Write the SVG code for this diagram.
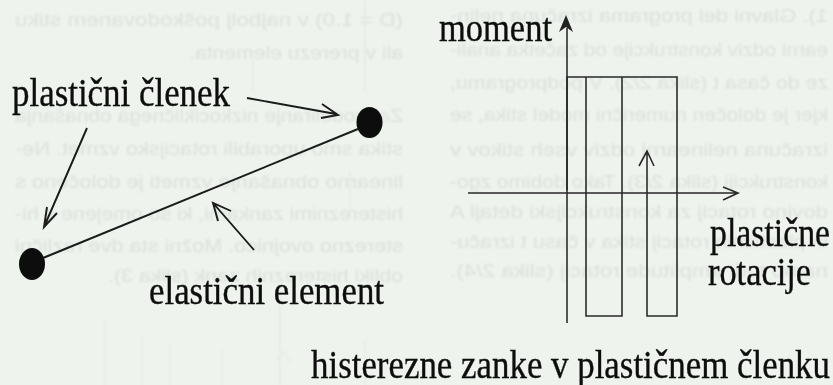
<svg xmlns="http://www.w3.org/2000/svg" width="833" height="385" viewBox="0 0 833 385">
<style>
.bg{font-family:"Liberation Sans",Arial,sans-serif;font-size:19px;fill:#dde1dc}
.t{font-family:"Liberation Serif","Times New Roman",serif;font-size:35px;fill:#111;stroke:#111;stroke-width:.35}
.l{fill:none;stroke:#1a1a1a;stroke-width:1.9}
.a{fill:none;stroke:#2a2a2a;stroke-width:1.6}
.n{fill:#0a0a0a}
.h{fill:#222}
.f{fill:none;stroke:#e8ece7;stroke-width:2}
</style>
<defs>
<filter id="soft" x="-5%" y="-5%" width="110%" height="110%"><feGaussianBlur stdDeviation="0.45"/></filter>
<filter id="softer" x="-5%" y="-5%" width="110%" height="110%"><feGaussianBlur stdDeviation="0.8"/></filter>
</defs>
<rect width="833" height="385" fill="#eef3ee"/>
<g id="faint-marks" filter="url(#softer)">
<path class="f" d="M365 0V92M253 60V92M350 170V215M280 285V385M105 320V385M142 335V385M170 345V385M222 350V385M276 360L283 352L290 362M365 340V385"/>
</g>
<g id="faint-mirrored-page-text" filter="url(#softer)">
<g transform="translate(418,0) scale(-1,1)">
<text class="bg" x="15" y="26" textLength="388" lengthAdjust="spacingAndGlyphs">(D = 1.0) v najbolj poškodovanem stiku</text>
<text class="bg" x="15" y="59" textLength="214" lengthAdjust="spacingAndGlyphs">ali v prerezu elementa.</text>
<text class="bg" x="15" y="122" textLength="388" lengthAdjust="spacingAndGlyphs">Za modeliranje nizkocikličnega obnašanja</text>
<text class="bg" x="15" y="155" textLength="388" lengthAdjust="spacingAndGlyphs">stika smo uporabili rotacijsko vzmet. Ne-</text>
<text class="bg" x="15" y="188" textLength="388" lengthAdjust="spacingAndGlyphs">linearno obnašanje vzmeti je določeno s</text>
<text class="bg" x="15" y="220" textLength="388" lengthAdjust="spacingAndGlyphs">histereznimi zankami, ki so omejene s hi-</text>
<text class="bg" x="15" y="252" textLength="388" lengthAdjust="spacingAndGlyphs">sterezno ovojnico. Možni sta dve različni</text>
<text class="bg" x="15" y="282" textLength="295" lengthAdjust="spacingAndGlyphs">obliki histereznih zank (slika 3).</text>
</g>
<g transform="translate(1278,0) scale(-1,1)">
<text class="bg" x="450" y="22" textLength="378" lengthAdjust="spacingAndGlyphs">1). Glavni del programa izračuna nelin-</text>
<text class="bg" x="450" y="56" textLength="378" lengthAdjust="spacingAndGlyphs">earni odziv konstrukcije od začetka anali-</text>
<text class="bg" x="450" y="89" textLength="378" lengthAdjust="spacingAndGlyphs">ze do časa t (slika 2/2). V podprogramu,</text>
<text class="bg" x="450" y="121" textLength="378" lengthAdjust="spacingAndGlyphs">kjer je določen numerični model stika, se</text>
<text class="bg" x="450" y="156" textLength="378" lengthAdjust="spacingAndGlyphs">izračuna nelinearni odziv vseh stikov v</text>
<text class="bg" x="450" y="188" textLength="378" lengthAdjust="spacingAndGlyphs">konstrukciji (slika 2/3). Tako dobimo zgo-</text>
<text class="bg" x="450" y="218" textLength="378" lengthAdjust="spacingAndGlyphs">dovino rotacij za konstrukcijski detajl A</text>
<text class="bg" x="450" y="248" textLength="378" lengthAdjust="spacingAndGlyphs">in plastičnih rotacij stika v času t izraču-</text>
<text class="bg" x="450" y="277" textLength="378" lengthAdjust="spacingAndGlyphs">namo tudi amplitude rotacij (slika 2/4).</text>
</g>
</g>
<g id="main" filter="url(#soft)">
<g id="connectors">
<path class="l" d="M43 258L358 129"/>
<path class="l" d="M247 98L336 114M322 104L338 115L321 118"/>
<path class="l" d="M87 128L44 227M47 207L44 227L57 213"/>
<path class="l" d="M254 250L213 203M231 211L213 203L218 221"/>
<path class="a" d="M567 323V28"/>
<path class="h" d="M566 15L573 32L566 27L559 32Z"/>
<path class="a" d="M468 193H736M723 187L738 193L723 200"/>
<path class="a" d="M567 190V77H677V316H647V153M639 166L647 151L654 166"/>
<path class="a" d="M586 77V316H622V77"/>
</g>
<g id="node-right"><ellipse class="n" cx="369.5" cy="122.5" rx="13" ry="15.5"/></g>
<g id="node-left"><ellipse class="n" cx="32" cy="264" rx="13" ry="16"/></g>
<g id="label-clenek"><text class="t" transform="translate(12,106) scale(1,1.15)" textLength="218" lengthAdjust="spacingAndGlyphs">plastični členek</text></g>
<g id="label-element"><text class="t" transform="translate(149,304) scale(1,1.15)" textLength="235" lengthAdjust="spacingAndGlyphs">elastični element</text></g>
<g id="label-moment"><text class="t" transform="translate(439,41) scale(1,1.15)" textLength="113" lengthAdjust="spacingAndGlyphs">moment</text></g>
<g id="label-plasticne"><text class="t" transform="translate(710,246) scale(1,1.15)" textLength="120" lengthAdjust="spacingAndGlyphs">plastične</text></g>
<g id="label-rotacije"><text class="t" transform="translate(708,285) scale(1,1.15)" textLength="103" lengthAdjust="spacingAndGlyphs">rotacije</text></g>
<g id="label-zanke"><text class="t" transform="translate(311,378) scale(1,1.15)" textLength="519" lengthAdjust="spacingAndGlyphs">histerezne zanke v plastičnem členku</text></g>
</g>
</svg>
